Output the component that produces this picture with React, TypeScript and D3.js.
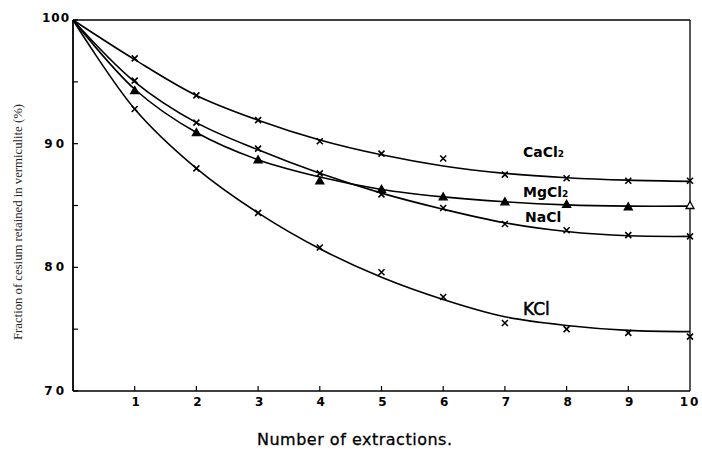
import React from "react";
import * as d3 from "d3";

// Number of successive extractions
const extractions = [1, 2, 3, 4, 5, 6, 7, 8, 9, 10];
const curveX = [0, 1, 2, 3, 4, 5, 6, 7, 8, 9, 10];

// Measured fraction of cesium retained (%)
const caCl2Points = [96.9, 93.9, 91.9, 90.2, 89.2, 88.8, 87.5, 87.2, 87.0, 87.0];
const mgCl2Points = [94.3, 90.9, 88.7, 87.0, 86.3, 85.7, 85.3, 85.1, 84.9, 85.0];
const naClPoints = [95.1, 91.7, 89.6, 87.6, 85.9, 84.8, 83.5, 83.0, 82.6, 82.5];
const kClPoints = [92.8, 88.0, 84.4, 81.6, 79.6, 77.6, 75.5, 75.0, 74.7, 74.4];

// Smoothed trend curves, starting from 100 % at zero extractions
const caCl2Curve = [100, 96.8, 93.9, 91.9, 90.3, 89.1, 88.2, 87.6, 87.25, 87.05, 86.95];
const mgCl2Curve = [100, 94.4, 90.9, 88.7, 87.3, 86.3, 85.7, 85.3, 85.05, 84.95, 84.95];
const naClCurve = [100, 95.0, 91.7, 89.5, 87.6, 86.0, 84.7, 83.6, 82.9, 82.55, 82.5];
const kClCurve = [100, 92.8, 88.0, 84.4, 81.5, 79.2, 77.4, 76.0, 75.3, 74.9, 74.8];

const yMajorTicks = [70, 80, 90, 100];
const yMinorTicks = [75, 85, 95];
const xTicks = [1, 2, 3, 4, 5, 6, 7, 8, 9, 10];

const W = 702;
const H = 450;

export default function App() {
  const x = d3.scaleLinear().domain([0, 10]).range([73, 690]);
  const y = d3.scaleLinear().domain([70, 100]).range([391, 20]);

  const line = d3
    .line<number>()
    .x((_, i) => x(curveX[i]))
    .y((d) => y(d))
    .curve(d3.curveCatmullRom.alpha(0.5));

  const curves = [caCl2Curve, mgCl2Curve, naClCurve, kClCurve];

  const cross = (cx: number, cy: number, key: string) => (
    <path
      key={key}
      d={`M${cx - 3},${cy - 3}L${cx + 3},${cy + 3}M${cx - 3},${cy + 3}L${cx + 3},${cy - 3}`}
      stroke="#000"
      strokeWidth={1.6}
      fill="none"
    />
  );

  const tri = (cx: number, cy: number, key: string, open: boolean) => (
    <path
      key={key}
      d={`M${cx},${cy - 4}L${cx + 4},${cy + 3}L${cx - 4},${cy + 3}Z`}
      stroke="#000"
      strokeWidth={1.3}
      fill={open ? "#fff" : "#000"}
    />
  );

  const tickFont = "'DejaVu Sans', sans-serif";

  return (
    <svg
      width={W}
      height={H}
      style={{ position: "absolute", left: 0, top: 0, background: "#fff" }}
    >
      <rect x={0} y={0} width={W} height={H} fill="#fff" />

      {/* frame */}
      <line x1={x(0)} x2={x(10)} y1={y(100)} y2={y(100)} stroke="#000" strokeWidth={1.4} />
      <line x1={x(10)} x2={x(10)} y1={y(100)} y2={y(70)} stroke="#000" strokeWidth={1.3} />
      <line x1={x(0)} x2={x(0)} y1={y(100)} y2={y(70)} stroke="#000" strokeWidth={1.8} />
      <line x1={x(0)} x2={x(10)} y1={y(70)} y2={y(70)} stroke="#000" strokeWidth={1.6} />

      {/* y ticks */}
      {yMajorTicks.concat(yMinorTicks).map((t) => (
        <line key={`yt${t}`} x1={x(0)} x2={x(0) + 5} y1={y(t)} y2={y(t)} stroke="#000" strokeWidth={1.2} />
      ))}
      {yMajorTicks.map((t) => (
        <text
          key={`yl${t}`}
          x={t === 100 ? 70 : 67}
          y={t === 100 ? y(t) + 2 : y(t) + 4}
          textAnchor="end"
          fontFamily={tickFont}
          fontWeight="bold"
          fontSize={12}
          letterSpacing={t === 100 ? 1 : 3}
        >
          {t}
        </text>
      ))}

      {/* x ticks */}
      {xTicks.map((t) => (
        <g key={`xt${t}`}>
          {t < 10 && (
            <line x1={x(t)} x2={x(t)} y1={y(70)} y2={y(70) - 5} stroke="#000" strokeWidth={1.2} />
          )}
          <text
            x={x(t) + (t === 10 ? 0 : 1)}
            y={406}
            textAnchor="middle"
            fontFamily={tickFont}
            fontWeight="bold"
            fontSize={12}
            letterSpacing={t === 10 ? 2 : 0}
          >
            {t}
          </text>
        </g>
      ))}

      {/* trend curves */}
      {curves.map((c, i) => (
        <path key={`c${i}`} d={line(c) ?? ""} fill="none" stroke="#000" strokeWidth={1.6} />
      ))}

      {/* measured points */}
      {extractions.map((e, i) => cross(x(e), y(caCl2Points[i]), `ca${i}`))}
      {extractions.map((e, i) => cross(x(e), y(naClPoints[i]), `na${i}`))}
      {extractions.map((e, i) => cross(x(e), y(kClPoints[i]), `k${i}`))}
      {extractions.map((e, i) => tri(x(e), y(mgCl2Points[i]), `mg${i}`, i === extractions.length - 1))}

      {/* series labels */}
      <text x={523} y={157} fontFamily={tickFont} fontWeight="bold" fontSize={14}>
        CaCl<tspan fontSize={9}>2</tspan>
      </text>
      <text x={523} y={197} fontFamily={tickFont} fontWeight="bold" fontSize={14}>
        MgCl<tspan fontSize={9}>2</tspan>
      </text>
      <text x={525} y={222} fontFamily={tickFont} fontWeight="bold" fontSize={14}>
        NaCl
      </text>
      <text x={523} y={315} fontFamily={tickFont} fontSize={17} stroke="#000" strokeWidth={0.5}>
        KCl
      </text>

      {/* axis titles */}
      <text
        x={257}
        y={445}
        fontFamily={tickFont}
        fontSize={16}
        textLength={195}
        lengthAdjust="spacing"
        stroke="#000"
        strokeWidth={0.3}
      >
        Number of extractions.
      </text>
      <text
        transform="translate(22,222) rotate(-90)"
        textAnchor="middle"
        fontFamily="'Liberation Serif', serif"
        fontSize={12}
        textLength={236}
        lengthAdjust="spacingAndGlyphs"
        fill="#222"
      >
        Fraction of cesium retained in vermiculite (%)
      </text>
    </svg>
  );
}
